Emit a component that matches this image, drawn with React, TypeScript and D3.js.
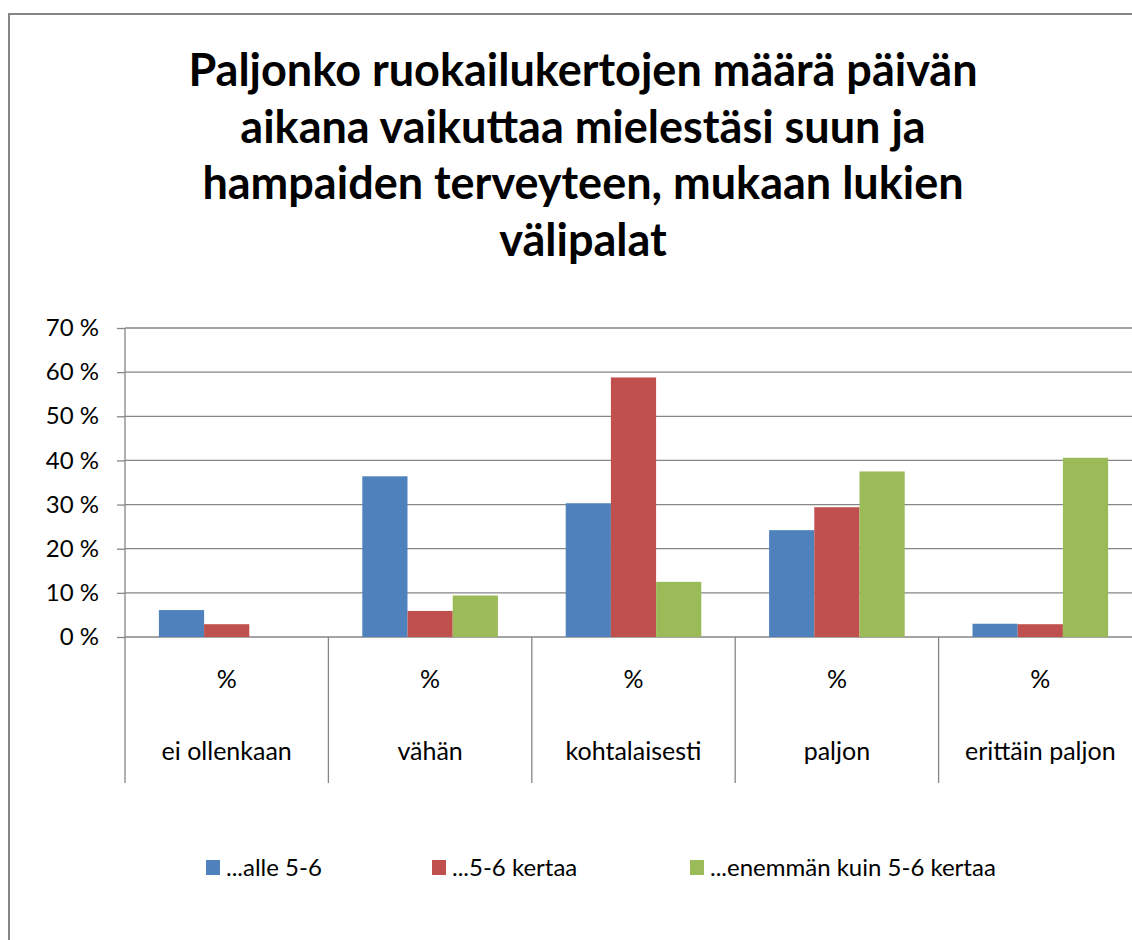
import React, { useEffect, useRef } from "react";
import * as d3 from "d3";

const categories = ["ei ollenkaan", "vähän", "kohtalaisesti", "paljon", "erittäin paljon"];
const seriesNames = ["...alle 5-6", "...5-6 kertaa", "...enemmän kuin 5-6 kertaa"];
const seriesColors = ["#4F81BD", "#C0504D", "#9BBB59"];
// values, in %
const alle = [6.1, 36.4, 30.3, 24.2, 3.0];
const kertaa = [2.9, 5.9, 58.8, 29.4, 2.9];
const enemman = [0, 9.4, 12.5, 37.5, 40.6];
const yTicks = [0, 10, 20, 30, 40, 50, 60, 70];
const titleLines = [
	"Paljonko ruokailukertojen määrä päivän",
	"aikana vaikuttaa mielestäsi suun ja",
	"hampaiden terveyteen, mukaan lukien",
	"välipalat",
];

const FONT = "Lato, 'Open Sans', sans-serif";
const GRAY = "#868686";

const App = () => {
	const ref = useRef<SVGSVGElement>(null);

	useEffect(() => {
		const svg = d3.select(ref.current);
		svg.selectAll("*").remove();

		const values = [alle, kertaa, enemman];
		const left = 125;
		const step = 203.4;
		const top = 328;
		const bottom = 637;
		const catBottom = 783;

		const x = d3
			.scaleBand()
			.domain(categories)
			.range([left, left + step * categories.length])
			.padding(0);
		const xSub = d3
			.scaleBand()
			.domain(seriesNames)
			.range([0, x.bandwidth()])
			.paddingInner(0)
			.paddingOuter(0.75);
		const y = d3.scaleLinear().domain([0, 70]).range([bottom, top]);

		// outer frame
		svg.append("rect")
			.attr("x", 9)
			.attr("y", 14)
			.attr("width", 1160)
			.attr("height", 960)
			.attr("fill", "white")
			.attr("stroke", GRAY)
			.attr("stroke-width", 2);

		// title
		svg.append("text")
			.attr("text-anchor", "middle")
			.attr("font-family", FONT)
			.attr("font-weight", 700)
			.attr("font-size", 45)
			.attr("fill", "#000")
			.selectAll("tspan")
			.data(titleLines)
			.enter()
			.append("tspan")
			.attr("x", 583)
			.attr("y", (d, i) => 86 + i * 56.5)
			.text((d) => d);

		// gridlines
		svg.append("g")
			.selectAll("line")
			.data(yTicks)
			.enter()
			.append("line")
			.attr("x1", left)
			.attr("x2", left + step * categories.length)
			.attr("y1", (d) => y(d))
			.attr("y2", (d) => y(d))
			.attr("stroke", GRAY)
			.attr("stroke-width", 1.3);

		// y axis
		const yAxis = svg
			.append("g")
			.attr("transform", `translate(${left}, 0)`)
			.call(
				d3
					.axisLeft(y)
					.tickValues(yTicks)
					.tickSize(8)
					.tickPadding(18)
					.tickFormat((d) => `${d} %`)
			);
		yAxis.select(".domain").remove();
		yAxis.selectAll(".tick line").attr("stroke", GRAY).attr("stroke-width", 1.3);
		yAxis.selectAll(".tick text")
			.attr("font-family", FONT)
			.attr("font-size", 24)
			.attr("fill", "#000");

		svg.append("line")
			.attr("x1", left)
			.attr("x2", left)
			.attr("y1", top)
			.attr("y2", catBottom)
			.attr("stroke", GRAY)
			.attr("stroke-width", 1.3);

		// category separators
		svg.append("g")
			.selectAll("line")
			.data(categories.slice(1).concat(["end"]))
			.enter()
			.append("line")
			.attr("x1", (d, i) => left + step * (i + 1))
			.attr("x2", (d, i) => left + step * (i + 1))
			.attr("y1", bottom)
			.attr("y2", catBottom)
			.attr("stroke", GRAY)
			.attr("stroke-width", 1.3);

		// bars
		seriesNames.forEach((name, si) => {
			svg.append("g")
				.selectAll("rect")
				.data(values[si])
				.enter()
				.append("rect")
				.attr("x", (d, i) => x(categories[i]) + xSub(name))
				.attr("y", (d) => y(d))
				.attr("width", xSub.bandwidth())
				.attr("height", (d) => bottom - y(d))
				.attr("fill", seriesColors[si]);
		});

		// category labels
		const catG = svg.append("g")
			.attr("font-family", FONT)
			.attr("font-size", 25)
			.attr("text-anchor", "middle")
			.attr("fill", "#000");
		catG.selectAll(".pct")
			.data(categories)
			.enter()
			.append("text")
			.attr("x", (d) => x(d) + x.bandwidth() / 2)
			.attr("y", 688)
			.text("%");
		catG.selectAll(".name")
			.data(categories)
			.enter()
			.append("text")
			.attr("x", (d) => x(d) + x.bandwidth() / 2)
			.attr("y", 760)
			.text((d) => d);

		// legend
		const legendX = [206, 432, 690];
		const legend = svg.append("g")
			.selectAll("g")
			.data(seriesNames)
			.enter()
			.append("g")
			.attr("transform", (d, i) => `translate(${legendX[i]}, 860)`);
		legend.append("rect")
			.attr("width", 14)
			.attr("height", 15)
			.attr("fill", (d, i) => seriesColors[i]);
		legend.append("text")
			.attr("x", 20)
			.attr("y", 16)
			.attr("font-family", FONT)
			.attr("font-size", 24)
			.attr("fill", "#000")
			.text((d) => d);
	}, []);

	return (
		<svg
			ref={ref}
			width={1132}
			height={940}
			style={{ position: "absolute", left: 0, top: 0, background: "white" }}
		></svg>
	);
};

export default App;
